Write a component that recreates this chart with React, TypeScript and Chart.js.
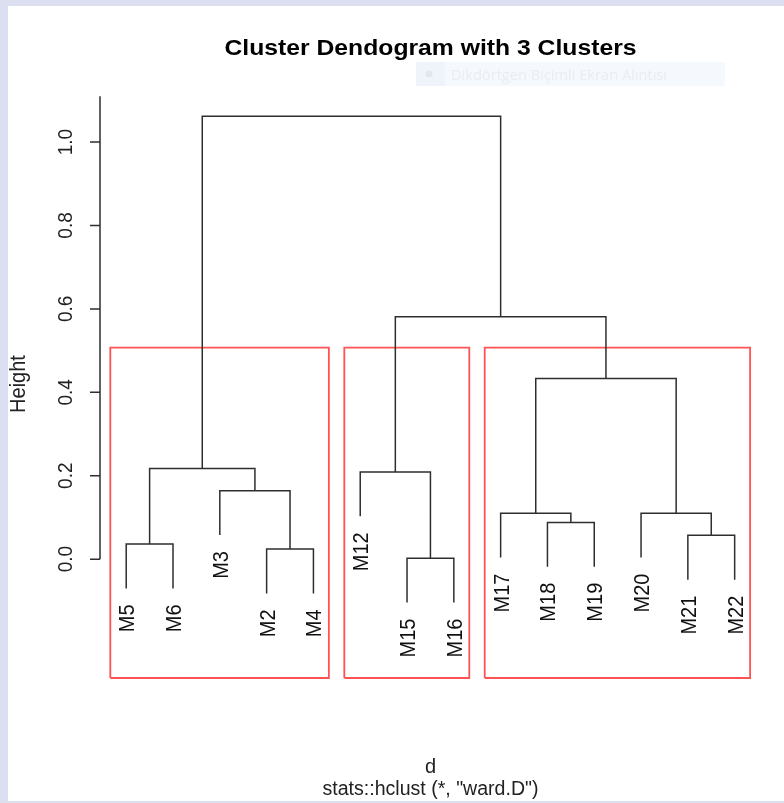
import React, { useEffect, useRef } from "react";
import { Chart, registerables } from "chart.js";

Chart.register(...registerables);

// ---- data ----
const leafLabels = ["M5", "M6", "M3", "M2", "M4", "M12", "M15", "M16", "M17", "M18", "M19", "M20", "M21", "M22"];
// R-style merge table: negative = leaf (1-based position in leafLabels), positive = earlier merge (1-based)
const mergeLeft = [-7, -4, -1, -13, -10, -9, -12, -3, -6, 3, 6, 9, 10];
const mergeRight = [-8, -5, -2, -14, -11, 5, 4, 2, 1, 8, 7, 11, 12];
const mergeHeight = [0.002, 0.024, 0.036, 0.057, 0.088, 0.11, 0.11, 0.164, 0.209, 0.217, 0.433, 0.581, 1.062];
const clusterFirstLeaf = [1, 6, 9];
const clusterLastLeaf = [5, 8, 14];
const yTickValues = [0, 0.2, 0.4, 0.6, 0.8, 1.0];
const yTickLabels = ["0.0", "0.2", "0.4", "0.6", "0.8", "1.0"];
const titleText = "Cluster Dendogram with 3 Clusters";
const yAxisTitle = "Height";
const xAxisTitle = "d";
const subTitle = 'stats::hclust (*, "ward.D")';
const overlayText = "Dikdörtgen Biçimli Ekran Alıntısı";

const HANG = 0.1;
const K = 3;
const Y_MIN = -0.285;
const Y_MAX = 1.12;
const AXIS_TOP = 1.11;
const X_MIN = 0.44;
const X_MAX = 14.52;

const FONT = "'Liberation Sans', Arial, Helvetica, sans-serif";
const LINE = "#2e2e2e";

type TextOpts = {
  size: number;
  bold?: boolean;
  family?: string;
  color?: string;
  align?: CanvasTextAlign;
  baseline?: CanvasTextBaseline;
  rotate?: number;
  sx?: number;
  width?: number;
};

function drawText(ctx: CanvasRenderingContext2D, text: string, x: number, y: number, o: TextOpts) {
  ctx.save();
  ctx.font = `${o.bold ? "bold " : ""}${o.size}px ${o.family || FONT}`;
  ctx.fillStyle = o.color || "#111";
  ctx.textAlign = o.align || "center";
  ctx.textBaseline = o.baseline || "alphabetic";
  ctx.translate(x, y);
  ctx.scale(o.sx || 1, 1);
  if (o.rotate) ctx.rotate(o.rotate);
  if (o.width) {
    const w = ctx.measureText(text).width;
    ctx.scale(o.width / w, 1);
  }
  ctx.fillText(text, 0, 0);
  ctx.restore();
}

export default function App() {
  const ref = useRef<HTMLCanvasElement>(null);

  useEffect(() => {
    if (!ref.current) return;
    const maxH = Math.max(...mergeHeight);
    const hang = HANG * maxH;
    const nodeX: number[] = [];
    const leafEnd: number[] = [];
    const datasets: any[] = [];

    const child = (c: number, h: number) => {
      if (c < 0) {
        leafEnd[-c] = h - hang;
        return { x: -c, y: h - hang };
      }
      return { x: nodeX[c - 1], y: mergeHeight[c - 1] };
    };

    mergeLeft.forEach((l, i) => {
      const h = mergeHeight[i];
      const a = child(l, h);
      const b = child(mergeRight[i], h);
      nodeX[i] = (a.x + b.x) / 2;
      datasets.push({
        data: [
          { x: a.x, y: a.y },
          { x: a.x, y: h },
          { x: b.x, y: h },
          { x: b.x, y: b.y },
        ],
        borderColor: LINE,
        borderWidth: 1.5,
        pointRadius: 0,
        fill: false,
        tension: 0,
        clip: false,
      });
    });

    const sorted = [...mergeHeight].sort((p, q) => q - p);
    const cut = (sorted[K - 2] + sorted[K - 1]) / 2;
    clusterFirstLeaf.forEach((f, i) => {
      const x0 = f - 0.34;
      const x1 = clusterLastLeaf[i] + 0.33;
      datasets.push({
        data: [
          { x: x0, y: Y_MIN },
          { x: x0, y: cut },
          { x: x1, y: cut },
          { x: x1, y: Y_MIN },
          { x: x0, y: Y_MIN },
        ],
        borderColor: "rgba(255,40,40,0.8)",
        borderWidth: 1.8,
        pointRadius: 0,
        fill: false,
        tension: 0,
        clip: false,
      });
    });

    const bgPlugin = {
      id: "bg",
      beforeDraw(chart: any) {
        const ctx = chart.ctx as CanvasRenderingContext2D;
        ctx.save();
        ctx.fillStyle = "#dcdff0";
        ctx.fillRect(0, 0, chart.width, chart.height);
        ctx.fillStyle = "#ffffff";
        ctx.fillRect(8, 6, chart.width - 8, chart.height - 8);
        ctx.restore();
      },
    };

    const decoPlugin = {
      id: "deco",
      afterDraw(chart: any) {
        const ctx = chart.ctx as CanvasRenderingContext2D;
        const xs = chart.scales.x;
        const ys = chart.scales.y;
        const axisX = xs.getPixelForValue(X_MIN);

        // y axis
        ctx.save();
        ctx.strokeStyle = LINE;
        ctx.lineWidth = 1.5;
        ctx.beginPath();
        ctx.moveTo(axisX, ys.getPixelForValue(0));
        ctx.lineTo(axisX, ys.getPixelForValue(AXIS_TOP));
        yTickValues.forEach((v) => {
          const py = ys.getPixelForValue(v);
          ctx.moveTo(axisX, py);
          ctx.lineTo(axisX - 10, py);
        });
        ctx.stroke();
        ctx.restore();

        yTickValues.forEach((v, i) => {
          drawText(ctx, yTickLabels[i], axisX - 28, ys.getPixelForValue(v), {
            size: 19,
            rotate: -Math.PI / 2,
            sx: 1.1,
            color: "#222",
          });
        });

        // leaf labels
        const size = 20;
        const sx = 1.12;
        const capH = 0.716 * size * sx;
        leafLabels.forEach((lab, i) => {
          const px = xs.getPixelForValue(i + 1);
          const py = ys.getPixelForValue(leafEnd[i + 1]);
          drawText(ctx, lab, px + capH / 2, py + 16, {
            size,
            sx,
            rotate: -Math.PI / 2,
            align: "right",
            color: "#111",
          });
        });

        const cx = (chart.chartArea.left + chart.chartArea.right) / 2 + 1;
        // titles
        drawText(ctx, titleText, cx, 55, { size: 21.5, bold: true, width: 412, color: "#000" });
        drawText(ctx, yAxisTitle, 25, 384, { size: 20, sx: 1.12, rotate: -Math.PI / 2, color: "#222" });
        drawText(ctx, xAxisTitle, cx, 773, { size: 20, color: "#222" });
        drawText(ctx, subTitle, cx, 795, { size: 19.5, width: 216, color: "#222" });

        // faint screenshot-tool overlay
        ctx.save();
        ctx.fillStyle = "#f5f9fe";
        ctx.fillRect(416, 62, 309, 24);
        ctx.fillStyle = "#eff4fa";
        ctx.fillRect(416, 62, 29, 24);
        ctx.fillStyle = "#e2e7ef";
        ctx.beginPath();
        ctx.arc(429, 74, 3.5, 0, Math.PI * 2);
        ctx.fill();
        ctx.restore();
        drawText(ctx, overlayText, 451, 80, {
          size: 15,
          family: "'Open Sans', 'Noto Sans', sans-serif",
          align: "left",
          width: 216,
          color: "#e9ecf2",
        });
      },
    };

    const chart = new Chart(ref.current, {
      type: "line",
      data: { datasets },
      options: {
        animation: false,
        responsive: false,
        devicePixelRatio: 1,
        parsing: true,
        layout: { padding: { left: 100, right: 25, top: 92, bottom: 125 } },
        plugins: { legend: { display: false }, tooltip: { enabled: false }, title: { display: false } },
        scales: {
          x: { type: "linear", min: X_MIN, max: X_MAX, display: false },
          y: { type: "linear", min: Y_MIN, max: Y_MAX, display: false },
        },
        events: [],
      },
      plugins: [bgPlugin, decoPlugin],
    });
    return () => chart.destroy();
  }, []);

  return (
    <div style={{ position: "absolute", left: 0, top: 0, width: 784, height: 803 }}>
      <canvas ref={ref} width={784} height={803} style={{ display: "block" }} />
    </div>
  );
}
